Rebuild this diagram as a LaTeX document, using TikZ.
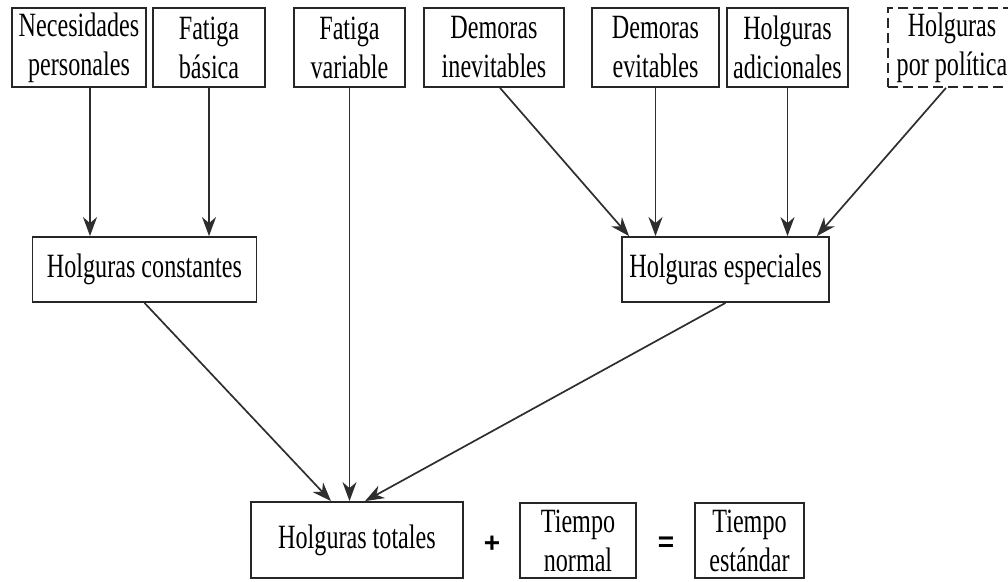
\documentclass[tikz,border=0pt]{standalone}
\usepackage{fontspec}
\setmainfont{Liberation Serif}[FakeStretch=0.71]
\newfontfamily\opfont{Liberation Sans}
\usetikzlibrary{arrows.meta,calc}

\newcommand\labelfont{\fontsize{34}{39}\selectfont}
\newcommand\opsign{\opfont\bfseries\fontsize{28}{28}\selectfont}

\tikzset{
  box/.style={draw=black!85, line width=1.8pt, inner sep=0pt, align=center,
              font=\labelfont, text=black},
  dbox/.style={box, dash pattern=on 10pt off 5pt},
  arr/.style={draw=black!82, line width=1.7pt,
              -{Stealth[length=19pt,width=14pt,inset=6pt]}},
  op/.style={font=\opsign, text=black, inner sep=0pt},
}

\begin{document}
\begin{tikzpicture}[x=1pt, y=-1pt]
  \useasboundingbox (0,0) rectangle (1008,581);

  % top row: sources of allowances
  \node[box, minimum width=134pt, minimum height=79pt] (nec) at (79,47.5)    {Necesidades\\personales};
  \node[box, minimum width=112pt, minimum height=79pt] (fb)  at (209,47.5)   {Fatiga\\básica};
  \node[box, minimum width=111pt, minimum height=79pt] (fv)  at (349.5,47.5) {Fatiga\\variable};
  \node[box, minimum width=140pt, minimum height=79pt] (di)  at (494,47.5)   {Demoras\\inevitables};
  \node[box, minimum width=127pt, minimum height=79pt] (de)  at (655.5,47.5) {Demoras\\evitables};
  \node[box, minimum width=121pt, minimum height=79pt] (ha)  at (787.5,47.5) {Holguras\\adicionales};
  \node[dbox, minimum width=128pt, minimum height=79pt] (hp) at (952,47.5)   {Holguras\\por política};

  % middle row: grouped allowances
  \node[box, minimum width=224pt, minimum height=65pt] (hc) at (144.5,269.5) {Holguras constantes};
  \node[box, minimum width=207pt, minimum height=65pt] (he) at (725.5,269.5) {Holguras especiales};

  % bottom row: the standard-time equation
  \node[box, minimum width=212pt, minimum height=76pt] (ht) at (357,540)   {Holguras totales};
  \node[op] (plus) at (492,544) {+};
  \node[box, minimum width=116pt, minimum height=75pt] (tn) at (578,540.5) {Tiempo\\normal};
  \node[op] (eq) at (666,544) {=};
  \node[box, minimum width=109pt, minimum height=75pt] (te) at (749.5,540.5) {Tiempo\\estándar};

  % connectors into the constant allowances
  \draw[arr] ([xshift=11pt]nec.south) -- ([xshift=11pt]nec.south |- hc.north);
  \draw[arr] (fb.south) -- (fb.south |- hc.north);

  % connectors into the special allowances
  \draw[arr] ([xshift=6pt]di.south) -- ([xshift=8pt]he.north west);
  \draw[arr] (de.south) -- (de.south |- he.north);
  \draw[arr] (ha.south) -- (ha.south |- he.north);
  \draw[arr] ([xshift=-6pt]hp.south) -- ([xshift=-13pt]he.north east);

  % connectors into the total allowances
  \draw[arr] (hc.south) -- ([xshift=-26pt]ht.north);
  \draw[arr] (fv.south) -- (fv.south |- ht.north);
  \draw[arr] (he.south) -- ([xshift=8pt]ht.north);
\end{tikzpicture}
\end{document}
